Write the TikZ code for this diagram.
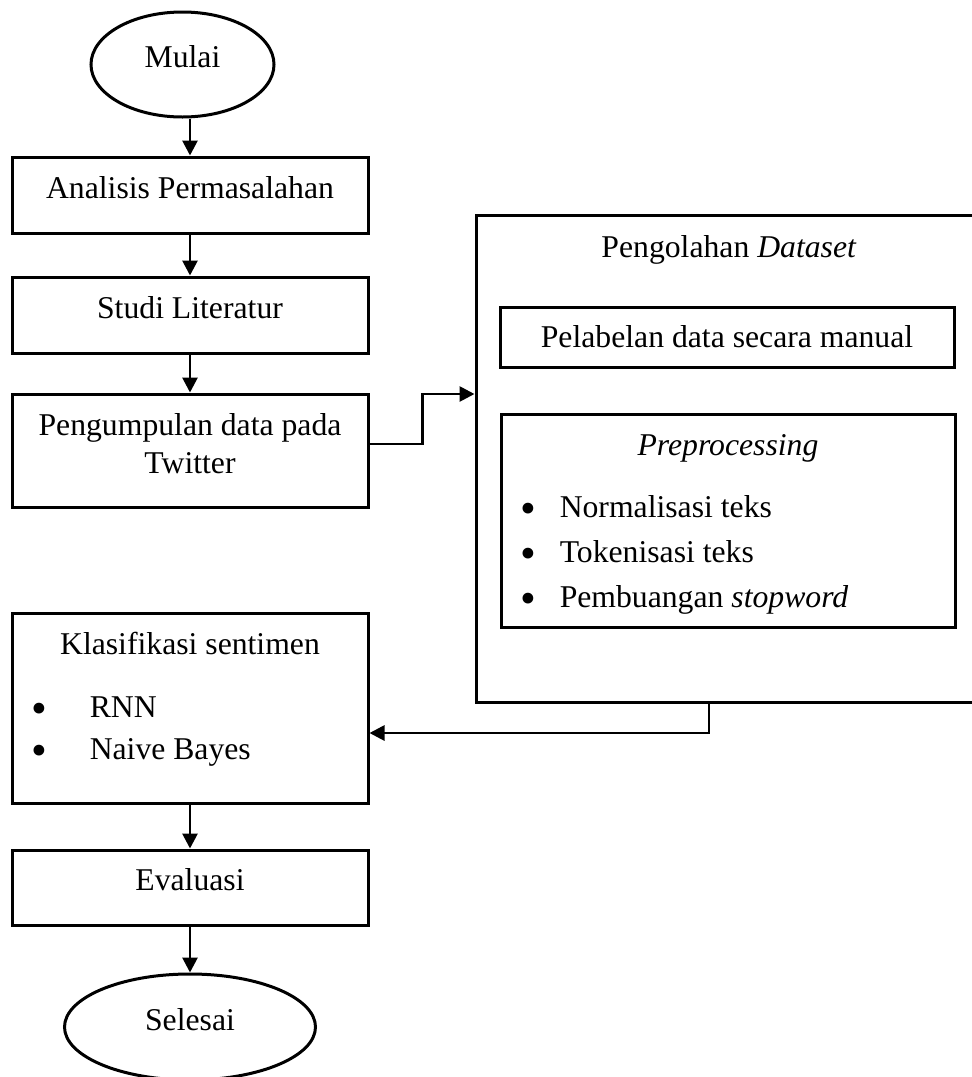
\documentclass[tikz,border=0pt]{standalone}
\usepackage{fontspec}
\setmainfont{Liberation Serif}
\usepackage{tikz}
\usetikzlibrary{shapes.geometric,arrows.meta}

\newcommand{\titik}{\raisebox{-6pt}{\fontsize{45}{45}\selectfont\textbullet}}

\tikzset{
	kotak/.style={draw, line width=3pt, inner sep=0pt, minimum width=356pt, text height=22pt, text depth=16pt},
	kotakbaris/.style={draw, line width=3pt, inner sep=0pt, minimum width=356pt, align=center},
	terminal/.style={draw, ellipse, line width=3pt, inner sep=0pt, text height=22pt, text depth=16pt},
	panah/.style={-{Triangle[length=15pt,width=15pt]}, line width=2.8pt},
}

\begin{document}
\begin{tikzpicture}[x=1pt, y=-1pt, font=\fontsize{31.7}{38}\selectfont]
			\clip (0,0) rectangle (972,1077);
			\node [terminal, minimum width=183pt, minimum height=105pt] (mulai) at (182.5,64.5) {Mulai};
			\node [kotak, minimum height=76pt] (analisis) at (190,195) {Analisis Permasalahan};
			\node [kotak, minimum height=76pt] (studi) at (190,315) {Studi Literatur};
			\node [kotakbaris, minimum height=113pt] (kumpul) at (190,450.5)
			{
				Pengumpulan data pada\\
				Twitter\rule[-15pt]{0pt}{15pt}
			};
			\node [kotakbaris, minimum height=190pt] (klasifikasi) at (190,708)
			{
				Klasifikasi sentimen\\[25pt]
				\makebox[356pt][l]{\hspace*{20pt}\titik\hspace{42pt}RNN}\\[4pt]
				\makebox[356pt][l]{\hspace*{20pt}\titik\hspace{42pt}Naive Bayes}\rule[-25pt]{0pt}{25pt}
			};
			\node [kotak, minimum height=75pt] (evaluasi) at (190,887.5) {Evaluasi};
			\node [terminal, minimum width=251pt, minimum height=106pt] (selesai) at (190,1027) {Selesai};
			\node [kotak, minimum width=506pt, minimum height=487pt] (olah) at (729,458.5) {};
			\node [anchor=base] (judulolah) at (729,257) {Pengolahan \textit{Dataset}};
			\node [kotak, minimum width=454pt, minimum height=60pt, text depth=2pt] (pelabelan) at (727,337) {Pelabelan data secara manual};
			\node [kotakbaris, minimum width=454pt, minimum height=213pt] (prepro) at (728,520.5)
			{
				\rule{0pt}{28pt}\textit{Preprocessing}\\[24pt]
				\makebox[454pt][l]{\hspace*{19pt}\titik\hspace{24pt}Normalisasi teks}\\[7pt]
				\makebox[454pt][l]{\hspace*{19pt}\titik\hspace{24pt}Tokenisasi teks}\\[7pt]
				\makebox[454pt][l]{\hspace*{19pt}\titik\hspace{24pt}Pembuangan \textit{stopword}}
			};
			\draw [panah] (mulai.south -| analisis.north) -- (analisis.north);
			\draw [panah] (analisis.south) -- (studi.north);
			\draw [panah] (studi.south) -- (kumpul.north);
			\draw [panah] ([yshift=6.5pt]kumpul.east) -- ++(53,0) |- ([yshift=64.5pt]olah.west);
			\draw [panah] ([xshift=-20pt]olah.south) |- ([yshift=-25pt]klasifikasi.east);
			\draw [panah] (klasifikasi.south) -- (evaluasi.north);
			\draw [panah] (evaluasi.south) -- (selesai.north);
		\end{tikzpicture}
\end{document}
